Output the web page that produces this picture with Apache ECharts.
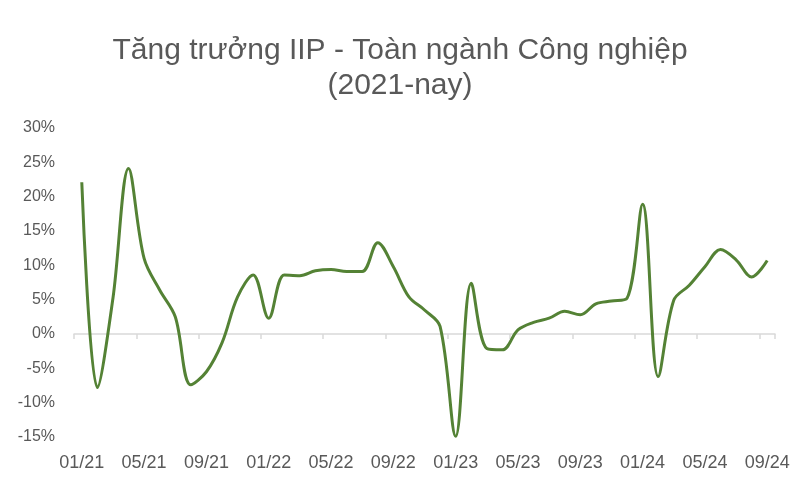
<!DOCTYPE html>
<html><head><meta charset="utf-8">
<script src="https://cdn.jsdelivr.net/npm/echarts@6/dist/echarts.min.js"></script>
<style>html,body{margin:0;padding:0;background:#fff}#c{width:800px;height:500px}</style>
</head><body><div id="c"></div>
<script>
const titleText = 'Tăng trưởng IIP - Toàn ngành Công nghiệp\n(2021-nay)';
const months = [
 '01/21','02/21','03/21','04/21','05/21','06/21','07/21','08/21','09/21','10/21','11/21','12/21',
 '01/22','02/22','03/22','04/22','05/22','06/22','07/22','08/22','09/22','10/22','11/22','12/22',
 '01/23','02/23','03/23','04/23','05/23','06/23','07/23','08/23','09/23','10/23','11/23','12/23',
 '01/24','02/24','03/24','04/24','05/24','06/24','07/24','08/24','09/24'];
const iipGrowth = [
 22.1, -7.8, 5.2, 24.1, 11.0, 6.4, 2.5, -7.4, -5.5, -1.3, 5.4, 8.6,
 2.3, 8.6, 8.5, 9.2, 9.4, 9.1, 9.1, 13.3, 9.8, 5.4, 3.5, 1.1,
 -14.9, 7.4, -2.1, -2.3, 0.6, 1.7, 2.3, 3.3, 2.8, 4.4, 4.8, 5.2,
 18.9, -6.2, 4.9, 7.1, 9.8, 12.3, 10.8, 8.3, 10.7];
const yTicks = {min: -15, max: 30, step: 5};

const chart = echarts.init(document.getElementById('c'), null, {renderer: 'canvas'});
chart.setOption({
  animation: false,
  backgroundColor: '#ffffff',
  title: {
    text: titleText, left: 'center', top: 28,
    textStyle: {fontFamily: 'Liberation Sans, Arial, sans-serif', fontSize: 30, fontWeight: 'normal', color: '#595959', lineHeight: 35}
  },
  grid: {left: 74, right: 25, top: 128, bottom: 63, containLabel: false},
  xAxis: [{
    type: 'category', data: months, boundaryGap: true, position: 'bottom',
    axisLine: {onZero: true, lineStyle: {color: '#d9d9d9', width: 1.5}},
    axisTick: {show: true, interval: 3, length: 5, inside: false, lineStyle: {color: '#d9d9d9', width: 1.5}},
    axisLabel: {show: false}
  }, {
    type: 'category', data: months, boundaryGap: true, position: 'bottom', offset: 0,
    axisLine: {show: false, onZero: false}, axisTick: {show: false},
    axisLabel: {interval: 3, fontFamily: 'Liberation Sans, Arial, sans-serif', fontSize: 18, color: '#595959', margin: 17}
  }],
  yAxis: {
    type: 'value', min: yTicks.min, max: yTicks.max, interval: yTicks.step,
    axisLine: {show: false}, axisTick: {show: false}, splitLine: {show: false},
    axisLabel: {formatter: '{value}%', fontFamily: 'Liberation Sans, Arial, sans-serif', fontSize: 16, color: '#595959', margin: 19}
  },
  series: [{
    type: 'line', data: iipGrowth, smooth: 0.35, symbol: 'none', xAxisIndex: 0,
    lineStyle: {color: '#548235', width: 3}
  }]
});
</script></body></html>
